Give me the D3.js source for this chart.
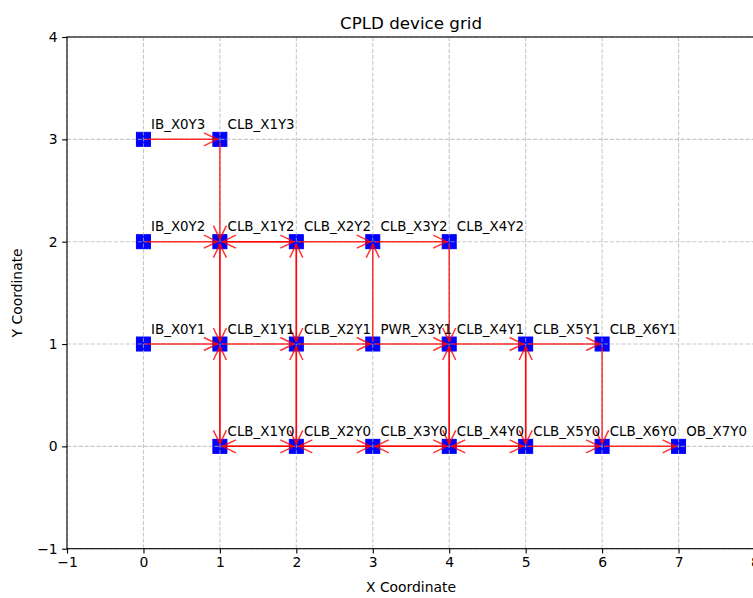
<!DOCTYPE html>
<html>
<head>
<meta charset="utf-8">
<script src="https://cdn.jsdelivr.net/npm/d3@7"></script>
<style>
  body { margin: 0; background: #fff; }
  svg { display: block; font-family: "DejaVu Sans", sans-serif; }
</style>
</head>
<body>
<svg width="753" height="598"></svg>
<script>
// node names and grid positions
let nodeNames = ["IB_X0Y3", "CLB_X1Y3",
    "IB_X0Y2", "CLB_X1Y2", "CLB_X2Y2", "CLB_X3Y2", "CLB_X4Y2",
    "IB_X0Y1", "CLB_X1Y1", "CLB_X2Y1", "PWR_X3Y1", "CLB_X4Y1", "CLB_X5Y1", "CLB_X6Y1",
    "CLB_X1Y0", "CLB_X2Y0", "CLB_X3Y0", "CLB_X4Y0", "CLB_X5Y0", "CLB_X6Y0", "OB_X7Y0"];
let nodeX = [0, 1,
    0, 1, 2, 3, 4,
    0, 1, 2, 3, 4, 5, 6,
    1, 2, 3, 4, 5, 6, 7];
let nodeY = [3, 3,
    2, 2, 2, 2, 2,
    1, 1, 1, 1, 1, 1, 1,
    0, 0, 0, 0, 0, 0, 0];

// directed connections [source, target]
let edges = [
    ["IB_X0Y3", "CLB_X1Y3"], ["CLB_X1Y3", "CLB_X1Y2"],
    ["IB_X0Y2", "CLB_X1Y2"], ["CLB_X1Y2", "CLB_X2Y2"], ["CLB_X2Y2", "CLB_X1Y2"],
    ["CLB_X2Y2", "CLB_X3Y2"], ["CLB_X3Y2", "CLB_X4Y2"],
    ["CLB_X1Y2", "CLB_X1Y1"], ["CLB_X1Y1", "CLB_X1Y2"],
    ["CLB_X2Y2", "CLB_X2Y1"], ["CLB_X2Y1", "CLB_X2Y2"],
    ["PWR_X3Y1", "CLB_X3Y2"], ["CLB_X4Y2", "CLB_X4Y1"],
    ["IB_X0Y1", "CLB_X1Y1"], ["CLB_X1Y1", "CLB_X2Y1"], ["CLB_X2Y1", "PWR_X3Y1"],
    ["PWR_X3Y1", "CLB_X4Y1"], ["CLB_X4Y1", "CLB_X5Y1"], ["CLB_X5Y1", "CLB_X6Y1"],
    ["CLB_X1Y1", "CLB_X1Y0"], ["CLB_X1Y0", "CLB_X1Y1"],
    ["CLB_X2Y1", "CLB_X2Y0"], ["CLB_X2Y0", "CLB_X2Y1"],
    ["CLB_X4Y1", "CLB_X4Y0"], ["CLB_X4Y0", "CLB_X4Y1"],
    ["CLB_X5Y1", "CLB_X5Y0"], ["CLB_X5Y0", "CLB_X5Y1"],
    ["CLB_X6Y1", "CLB_X6Y0"],
    ["CLB_X1Y0", "CLB_X2Y0"], ["CLB_X2Y0", "CLB_X1Y0"],
    ["CLB_X2Y0", "CLB_X3Y0"], ["CLB_X3Y0", "CLB_X2Y0"],
    ["CLB_X3Y0", "CLB_X4Y0"], ["CLB_X4Y0", "CLB_X3Y0"],
    ["CLB_X4Y0", "CLB_X5Y0"], ["CLB_X5Y0", "CLB_X4Y0"],
    ["CLB_X5Y0", "CLB_X6Y0"], ["CLB_X6Y0", "OB_X7Y0"]
];

let xTicks = [-1, 0, 1, 2, 3, 4, 5, 6, 7, 8];
let yTicks = [-1, 0, 1, 2, 3, 4];

let svg = d3.select("svg");
let pLeft = 67, pRight = 755, pTop = 37, pBottom = 548.7;

let x = d3.scaleLinear().domain([-1, 8]).range([pLeft, pRight]);
let y = d3.scaleLinear().domain([-1, 4]).range([pBottom, pTop]);

let nodes = nodeNames.map((n, i) => ({name: n, x: nodeX[i], y: nodeY[i]}));
let byName = {};
nodes.forEach(n => byName[n.name] = n);

//////////////////////////////////////////////////////////// nodes (under the grid, like matplotlib)
let sq = 14;
svg.append("g")
    .selectAll("rect")
    .data(nodes)
    .enter().append("rect")
    .attr("x", d => x(d.x) - sq / 2)
    .attr("y", d => y(d.y) - sq / 2)
    .attr("width", sq)
    .attr("height", sq)
    .attr("fill", "#0000ff")
    .attr("stroke", "#0000ff")
    .attr("stroke-width", 1);

//////////////////////////////////////////////////////////// grid
let grid = svg.append("g")
    .attr("stroke", "#b0b0b0")
    .attr("stroke-opacity", 0.7)
    .attr("stroke-width", 1.1)
    .attr("stroke-dasharray", "4.1,1.8");
grid.selectAll(".gx").data(xTicks).enter().append("line")
    .attr("x1", d => x(d)).attr("x2", d => x(d))
    .attr("y1", pTop).attr("y2", pBottom);
grid.selectAll(".gy").data(yTicks).enter().append("line")
    .attr("x1", pLeft).attr("x2", pRight)
    .attr("y1", d => y(d)).attr("y2", d => y(d));

//////////////////////////////////////////////////////////// arrows
let headLen = 13.5, headW = 6.5, shrink = 2.5;
let arrows = svg.append("g")
    .attr("stroke", "#ff0000")
    .attr("stroke-opacity", 0.8)
    .attr("stroke-width", 1.5)
    .attr("fill", "none");

edges.forEach(e => {
    let s = byName[e[0]], t = byName[e[1]];
    let sx = x(s.x), sy = y(s.y), tx = x(t.x), ty = y(t.y);
    let len = Math.hypot(tx - sx, ty - sy);
    let ux = (tx - sx) / len, uy = (ty - sy) / len;
    let nx = -uy, ny = ux;
    let ax = sx + ux * shrink, ay = sy + uy * shrink;
    let bx = tx - ux * shrink, by = ty - uy * shrink;
    arrows.append("line")
        .attr("x1", ax).attr("y1", ay)
        .attr("x2", bx).attr("y2", by);
    arrows.append("path")
        .attr("d", "M" + (bx - ux * headLen + nx * headW) + "," + (by - uy * headLen + ny * headW) +
            "L" + bx + "," + by +
            "L" + (bx - ux * headLen - nx * headW) + "," + (by - uy * headLen - ny * headW));
});

//////////////////////////////////////////////////////////// labels
svg.append("g")
    .selectAll("text")
    .data(nodes)
    .enter().append("text")
    .attr("x", d => x(d.x + 0.1))
    .attr("y", d => y(d.y + 0.1))
    .attr("font-size", "13.4px")
    .attr("fill", "#000")
    .text(d => d.name);

//////////////////////////////////////////////////////////// axes
let xAxis = svg.append("g")
    .attr("transform", "translate(0," + pBottom + ")")
    .call(d3.axisBottom(x).tickValues(xTicks).tickSize(4.9).tickPadding(4).tickSizeOuter(0)
        .tickFormat(d => d < 0 ? "\u2212" + Math.abs(d) : d));
let yAxis = svg.append("g")
    .attr("transform", "translate(" + pLeft + ",0)")
    .call(d3.axisLeft(y).tickValues(yTicks).tickSize(4.9).tickPadding(4.5).tickSizeOuter(0)
        .tickFormat(d => d < 0 ? "\u2212" + Math.abs(d) : d));

[xAxis, yAxis].forEach(a => {
    a.select(".domain").remove();
    a.selectAll(".tick line").attr("stroke", "#000").attr("stroke-width", 1.1);
    a.selectAll(".tick text").attr("font-size", "13.9px").attr("fill", "#000")
        .attr("font-family", "DejaVu Sans, sans-serif");
});

// spines
svg.append("rect")
    .attr("x", pLeft).attr("y", pTop)
    .attr("width", pRight - pLeft).attr("height", pBottom - pTop)
    .attr("fill", "none").attr("stroke", "#000").attr("stroke-width", 1.1);

// title and axis labels
svg.append("text")
    .attr("x", (pLeft + pRight) / 2).attr("y", 28.5)
    .attr("text-anchor", "middle")
    .attr("font-size", "16.7px")
    .text("CPLD device grid");
svg.append("text")
    .attr("x", (pLeft + pRight) / 2).attr("y", 592)
    .attr("text-anchor", "middle")
    .attr("font-size", "13.9px")
    .text("X Coordinate");
svg.append("text")
    .attr("transform", "translate(22," + (pTop + pBottom) / 2 + ") rotate(-90)")
    .attr("text-anchor", "middle")
    .attr("font-size", "13.9px")
    .text("Y Coordinate");
</script>
</body>
</html>
